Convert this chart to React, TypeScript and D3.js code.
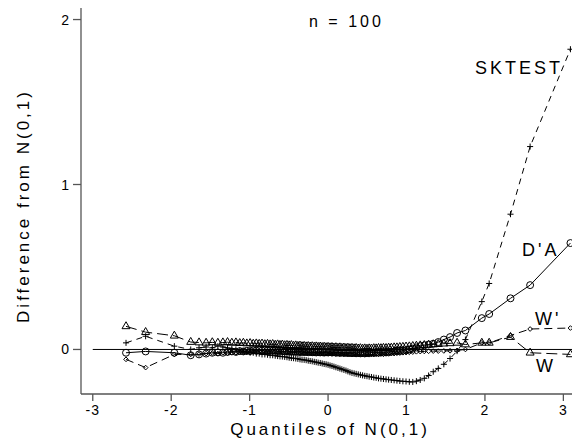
import React from 'react';
import * as d3 from 'd3';

// quantiles of N(0,1) at which each curve is evaluated
const quantiles = [
  -2.576, -2.326, -1.960, -1.751, -1.645, -1.555, -1.476, -1.405, -1.341, -1.282,
  -1.227, -1.175, -1.126, -1.080, -1.036, -0.994, -0.954, -0.915, -0.878, -0.842,
  -0.806, -0.772, -0.739, -0.706, -0.674, -0.643, -0.613, -0.583, -0.553, -0.524,
  -0.496, -0.468, -0.440, -0.412, -0.385, -0.358, -0.332, -0.305, -0.279, -0.253,
  -0.228, -0.202, -0.176, -0.151, -0.126, -0.100, -0.075, -0.050, -0.025, 0.000,
  0.025, 0.050, 0.075, 0.100, 0.126, 0.151, 0.176, 0.202, 0.228, 0.253,
  0.279, 0.305, 0.332, 0.358, 0.385, 0.412, 0.440, 0.468, 0.496, 0.524,
  0.553, 0.583, 0.613, 0.643, 0.674, 0.706, 0.739, 0.772, 0.806, 0.842,
  0.878, 0.915, 0.954, 0.994, 1.036, 1.080, 1.126, 1.175, 1.227, 1.282,
  1.341, 1.405, 1.476, 1.555, 1.645, 1.751, 1.960, 2.054, 2.326, 2.576, 3.090,
];

const sktest = [
  0.04, 0.08, 0.02, 0.0, 0.01, 0.015, 0.01, 0.02, 0.015, 0.01,
  0.005, 0.0, -0.005, -0.01, -0.015, -0.02, -0.02, -0.025, -0.025, -0.03,
  -0.03, -0.032, -0.035, -0.035, -0.038, -0.04, -0.042, -0.043, -0.045, -0.047,
  -0.05, -0.052, -0.053, -0.055, -0.057, -0.06, -0.062, -0.063, -0.065, -0.068,
  -0.07, -0.072, -0.075, -0.077, -0.08, -0.082, -0.085, -0.088, -0.09, -0.093,
  -0.097, -0.1, -0.104, -0.108, -0.112, -0.116, -0.12, -0.124, -0.128, -0.133,
  -0.138, -0.142, -0.145, -0.148, -0.151, -0.154, -0.157, -0.16, -0.162, -0.165,
  -0.167, -0.17, -0.172, -0.175, -0.177, -0.179, -0.181, -0.183, -0.185, -0.187,
  -0.189, -0.191, -0.193, -0.194, -0.196, -0.197, -0.192, -0.185, -0.175, -0.158,
  -0.135, -0.115, -0.09, -0.055, -0.01, 0.06, 0.29, 0.40, 0.82, 1.23, 1.82,
];

const dAgostino = [
  -0.02, -0.012, -0.02, -0.035, -0.03, -0.025, -0.02, -0.018, -0.02, -0.015,
  -0.012, -0.015, -0.01, -0.012, -0.008, -0.01, -0.006, -0.008, -0.005, -0.007,
  -0.004, -0.006, -0.005, -0.008, -0.006, -0.01, -0.008, -0.01, -0.012, -0.01,
  -0.012, -0.014, -0.012, -0.015, -0.013, -0.016, -0.014, -0.016, -0.015, -0.017,
  -0.015, -0.017, -0.016, -0.018, -0.016, -0.018, -0.017, -0.019, -0.017, -0.018,
  -0.016, -0.018, -0.017, -0.019, -0.018, -0.02, -0.018, -0.02, -0.019, -0.021,
  -0.02, -0.022, -0.02, -0.022, -0.021, -0.023, -0.021, -0.022, -0.02, -0.021,
  -0.019, -0.02, -0.018, -0.019, -0.017, -0.018, -0.016, -0.015, -0.013, -0.012,
  -0.01, -0.009, -0.007, -0.004, 0.0, 0.005, 0.012, 0.02, 0.025, 0.03,
  0.035, 0.045, 0.06, 0.075, 0.1, 0.115, 0.19, 0.215, 0.31, 0.39, 0.645,
];

const wPrime = [
  -0.06, -0.11, -0.03, -0.03, -0.028, -0.025, -0.022, -0.025, -0.02, -0.022,
  -0.018, -0.02, -0.016, -0.018, -0.015, -0.017, -0.013, -0.015, -0.012, -0.014,
  -0.01, -0.012, -0.01, -0.013, -0.011, -0.014, -0.012, -0.015, -0.013, -0.016,
  -0.014, -0.017, -0.015, -0.018, -0.016, -0.019, -0.017, -0.02, -0.018, -0.021,
  -0.019, -0.022, -0.02, -0.023, -0.021, -0.024, -0.022, -0.025, -0.023, -0.026,
  -0.024, -0.027, -0.025, -0.028, -0.026, -0.029, -0.027, -0.03, -0.028, -0.03,
  -0.029, -0.031, -0.03, -0.032, -0.03, -0.032, -0.031, -0.033, -0.031, -0.032,
  -0.03, -0.031, -0.029, -0.03, -0.028, -0.029, -0.027, -0.027, -0.025, -0.025,
  -0.023, -0.022, -0.02, -0.019, -0.017, -0.016, -0.014, -0.013, -0.012, -0.011,
  -0.01, -0.01, -0.009, -0.008, -0.006, 0.0, 0.04, 0.04, 0.085, 0.124, 0.13,
];

const wShapiro = [
  0.14, 0.105, 0.083, 0.045, 0.042, 0.04, 0.043, 0.04, 0.042, 0.044,
  0.04, 0.042, 0.038, 0.04, 0.036, 0.038, 0.034, 0.036, 0.033, 0.035,
  0.031, 0.033, 0.03, 0.032, 0.028, 0.03, 0.027, 0.029, 0.025, 0.027,
  0.024, 0.026, 0.022, 0.024, 0.021, 0.023, 0.019, 0.021, 0.018, 0.02,
  0.017, 0.019, 0.016, 0.018, 0.015, 0.017, 0.014, 0.016, 0.013, 0.015,
  0.012, 0.014, 0.011, 0.013, 0.01, 0.012, 0.009, 0.011, 0.008, 0.01,
  0.007, 0.009, 0.006, 0.008, 0.005, 0.007, 0.004, 0.006, 0.004, 0.006,
  0.005, 0.007, 0.006, 0.008, 0.007, 0.009, 0.008, 0.01, 0.01, 0.012,
  0.012, 0.014, 0.015, 0.017, 0.018, 0.02, 0.022, 0.024, 0.026, 0.028,
  0.03, 0.032, 0.035, 0.037, 0.04, 0.03, 0.04, 0.04, 0.075, -0.02, -0.03,
];

const xTicks = [-3, -2, -1, 0, 1, 2, 3];
const yTicks = [0, 1, 2];

const font = '"Liberation Sans", Arial, Helvetica, sans-serif';
const W = 572, H = 440;
const left = 81, right = 572, top = 8, bottom = 394;

const x = d3.scaleLinear().domain([-3.15, 3.11]).range([left, right]);
const y = d3.scaleLinear().domain([-0.27, 2.07]).range([bottom, top]);

const series = [
  { name: 'SKTEST', values: sktest, dash: '6,5', symbol: d3.symbolPlus, size: 14 },
  { name: "D'A", values: dAgostino, dash: null, symbol: d3.symbolCircle, size: 38 },
  { name: "W'", values: wPrime, dash: '8,5', symbol: d3.symbolDiamond2, size: 14 },
  { name: 'W', values: wShapiro, dash: '11,5', symbol: d3.symbolTriangle2, size: 46 },
];

const labels = [
  { text: 'SKTEST', x: 475, y: 74 },
  { text: "D'A", x: 522, y: 256 },
  { text: "W'", x: 535, y: 325 },
  { text: 'W', x: 536, y: 372 },
];

const line = d3.line<number>()
  .x((d, i) => x(quantiles[i]))
  .y(d => y(d));

export default function App() {
  return (
    <svg width={W} height={H} style={{ position: 'absolute', left: 0, top: 0, background: '#fff' }}>
      <defs>
        <clipPath id="plot">
          <rect x={left} y={0} width={right - left} height={bottom} />
        </clipPath>
      </defs>

      {/* zero reference */}
      <line x1={x(-3)} x2={right} y1={y(0)} y2={y(0)} stroke="#000" strokeWidth={1} />

      <g clipPath="url(#plot)">
        {series.map(s => {
          const sym = d3.symbol().type(s.symbol).size(s.size)();
          return (
            <g key={s.name}>
              <path d={line(s.values) || ''} fill="none" stroke="#000" strokeWidth={1}
                strokeDasharray={s.dash || undefined} />
              {s.values.map((v, i) => (
                <path key={i} d={sym || ''} transform={`translate(${x(quantiles[i])},${y(v)})`}
                  fill="none" stroke="#000" strokeWidth={1} />
              ))}
            </g>
          );
        })}
      </g>

      {/* axes */}
      <g stroke="#555" strokeWidth={1.3} fill="none">
        <line x1={left} x2={left} y1={top} y2={bottom} />
        <line x1={left} x2={right} y1={bottom} y2={bottom} />
        {yTicks.map(t => <line key={t} x1={left - 8} x2={left} y1={y(t)} y2={y(t)} />)}
        {xTicks.map(t => <line key={t} x1={x(t)} x2={x(t)} y1={bottom} y2={bottom + 7} />)}
      </g>
      <g fontFamily={font} fontSize={14} fill="#000" letterSpacing={1}>
        {yTicks.map(t => (
          <text key={t} x={left - 11} y={y(t) + 5} textAnchor="end">{t}</text>
        ))}
        {xTicks.map(t => (
          <text key={t} x={x(t)} y={415} textAnchor="middle">{t}</text>
        ))}
      </g>

      <text x={330} y={435} textAnchor="middle" fontFamily={font} fontSize={17} letterSpacing={3}>
        Quantiles of N(0,1)
      </text>
      <text transform="translate(29,206) rotate(-90)" textAnchor="middle" fontFamily={font}
        fontSize={17} letterSpacing={3}>
        Difference from N(0,1)
      </text>
      <text x={309} y={27} fontFamily={font} fontSize={16} letterSpacing={3}>n = 100</text>

      {labels.map(l => (
        <text key={l.text} x={l.x} y={l.y} fontFamily={font} fontSize={18} letterSpacing={3}>
          {l.text}
        </text>
      ))}
    </svg>
  );
}
